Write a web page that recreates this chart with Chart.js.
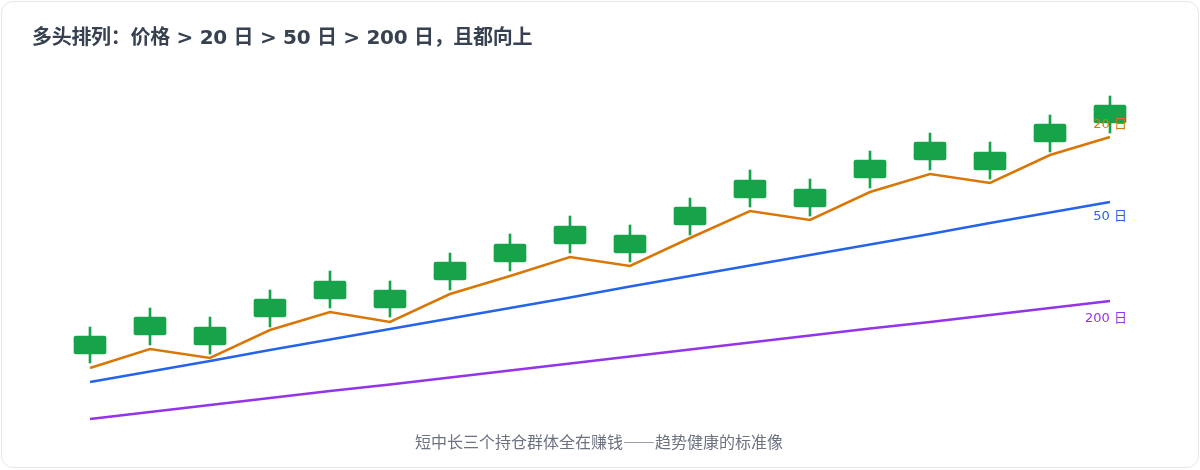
<!DOCTYPE html>
<html lang="zh">
<head>
<meta charset="utf-8">
<title>多头排列</title>
<script src="https://cdn.jsdelivr.net/npm/chart.js@4.4.1/dist/chart.umd.min.js"></script>
<style>
    html, body {
        margin: 0;
        padding: 0;
        background: #ffffff;
        font-family: "DejaVu Sans", "Noto Sans CJK SC", sans-serif;
    }
    .card {
        position: absolute;
        left: 1px;
        top: 1px;
        width: 1198px;
        height: 467px;
        box-sizing: border-box;
        border: 1px solid #e5e7eb;
        border-radius: 12px;
        background: #ffffff;
    }
    .title {
        position: absolute;
        left: 32px;
        top: 26px;
        font-size: 20px;
        font-weight: bold;
        line-height: 22px;
        letter-spacing: -0.3px;
        color: #374151;
        white-space: nowrap;
    }
    .caption {
        position: absolute;
        left: 0;
        width: 1198px;
        top: 431px;
        text-align: center;
        font-family: "Noto Sans CJK SC", sans-serif;
        font-size: 16px;
        line-height: 20px;
        color: #6b7280;
    }
    #chart {
        position: absolute;
        left: 0;
        top: 0;
    }
</style>
</head>
<body>
<div class="card"></div>
<canvas id="chart" width="1200" height="470"></canvas>
<div class="title">多头排列：价格 &gt; 20 日 &gt; 50 日 &gt; 200 日，且都向上</div>
<div class="caption">短中长三个持仓群体全在赚钱——趋势健康的标准像</div>
<script>
const days = ['D1', 'D2', 'D3', 'D4', 'D5', 'D6', 'D7', 'D8', 'D9',
    'D10', 'D11', 'D12', 'D13', 'D14', 'D15', 'D16', 'D17', 'D18'];

const opens  = [95.2, 99.0, 97.0, 102.6, 106.2, 104.4, 110.0, 113.6, 117.2,
    115.4, 121.0, 126.4, 124.6, 130.4, 134.0, 132.0, 137.6, 141.4];
const closes = [98.8, 102.6, 100.6, 106.2, 109.8, 108.0, 113.6, 117.2, 120.8,
    119.0, 124.6, 130.0, 128.2, 134.0, 137.6, 135.6, 141.2, 145.0];
const highs  = [100.6, 104.4, 102.6, 108.0, 111.8, 109.8, 115.4, 119.2, 122.8,
    121.0, 126.4, 132.0, 130.2, 135.8, 139.4, 137.6, 143.0, 146.8];
const lows   = [93.4, 97.0, 95.2, 100.6, 104.4, 102.6, 108.0, 111.8, 115.4,
    113.6, 119.0, 124.6, 122.8, 128.4, 132.0, 130.2, 135.6, 139.4];

const ma20  = [92.4, 96.2, 94.4, 100.0, 103.6, 101.6, 107.2, 110.8, 114.6,
    112.8, 118.4, 123.8, 122.0, 127.6, 131.2, 129.4, 135.0, 138.6];
const ma50  = [89.6, 91.7, 93.8, 96.0, 98.1, 100.2, 102.3, 104.4, 106.5,
    108.7, 110.8, 112.9, 115.0, 117.1, 119.2, 121.4, 123.5, 125.6];
const ma200 = [82.2, 83.6, 85.0, 86.4, 87.8, 89.1, 90.5, 91.9, 93.3,
    94.7, 96.1, 97.5, 98.9, 100.3, 101.6, 103.0, 104.4, 105.8];

const maLabels = ['20 日', '50 日', '200 日'];

const green = '#16a34a';
const colors = ['#d97706', '#2563eb', '#9333ea'];

Chart.defaults.font.family = '"DejaVu Sans", "Noto Sans CJK SC", sans-serif';

// draw "20 日" etc. next to the last point of each MA line
const endLabels = {
    id: 'endLabels',
    afterDatasetsDraw(chart) {
        const ctx = chart.ctx;
        chart.data.datasets.forEach((ds, i) => {
            if (!ds.endLabel) return;
            const meta = chart.getDatasetMeta(i);
            const last = meta.data[meta.data.length - 1];
            ctx.save();
            ctx.font = '13px ' + Chart.defaults.font.family;
            ctx.fillStyle = ds.borderColor;
            ctx.textAlign = 'right';
            ctx.textBaseline = 'middle';
            ctx.fillText(ds.endLabel, last.x + 17, last.y + ds.labelDy);
            ctx.restore();
        });
    }
};

const lineDs = (label, data, color, dy) => ({
    type: 'line',
    label: label,
    data: data,
    borderColor: color,
    borderWidth: 2.5,
    pointRadius: 0,
    tension: 0,
    fill: false,
    endLabel: label,
    labelDy: dy,
    order: 3
});

new Chart(document.getElementById('chart'), {
    type: 'bar',
    data: {
        labels: days,
        datasets: [
            lineDs(maLabels[0], ma20, colors[0], -12),
            lineDs(maLabels[1], ma50, colors[1], 15),
            lineDs(maLabels[2], ma200, colors[2], 18),
            {
                label: 'wick',
                data: lows.map((l, i) => [l, highs[i]]),
                backgroundColor: green,
                barThickness: 2,
                grouped: false,
                order: 2
            },
            {
                label: 'body',
                data: opens.map((o, i) => [o, closes[i]]),
                backgroundColor: green,
                barThickness: 32,
                borderRadius: 2,
                borderSkipped: false,
                grouped: false,
                order: 1
            }
        ]
    },
    options: {
        responsive: false,
        animation: false,
        layout: {
            padding: { left: 60, right: 60, top: 80, bottom: 40 }
        },
        scales: {
            x: { display: false, offset: true },
            y: { display: false, min: 80, max: 150 }
        },
        plugins: {
            legend: { display: false },
            tooltip: { enabled: false }
        }
    },
    plugins: [endLabels]
});
</script>
</body>
</html>
